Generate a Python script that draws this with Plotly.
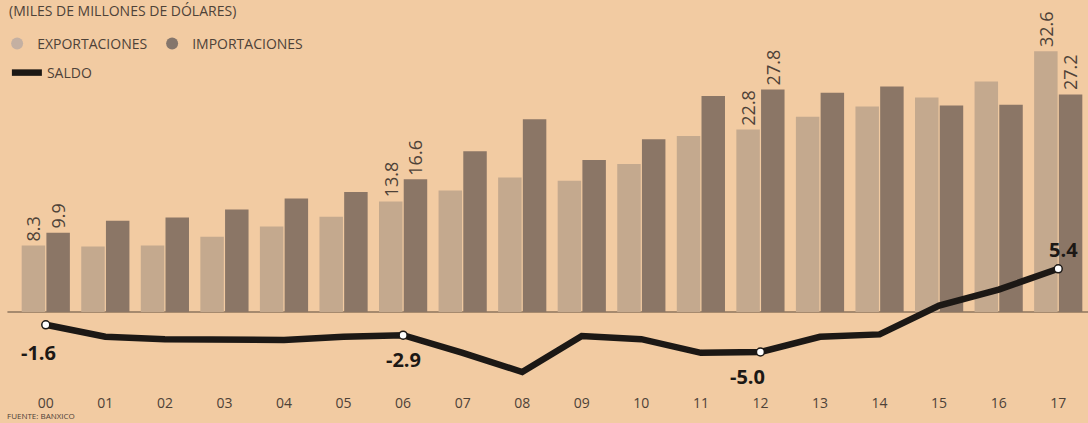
import plotly.graph_objects as go

years = ["00", "01", "02", "03", "04", "05", "06", "07", "08", "09",
         "10", "11", "12", "13", "14", "15", "16", "17"]
exportaciones = [8.3, 8.2, 8.3, 9.4, 10.7, 11.9, 13.8, 15.2, 16.8, 16.4,
                 18.5, 22.0, 22.8, 24.4, 25.7, 26.8, 28.8, 32.6]
importaciones = [9.9, 11.4, 11.8, 12.8, 14.2, 15.0, 16.6, 20.1, 24.1, 19.0,
                 21.6, 27.0, 27.8, 27.4, 28.2, 25.8, 25.9, 27.2]
saldo = [-1.6, -3.1, -3.4, -3.5, -3.5, -3.1, -2.9, -5.1, -7.5, -3.0,
         -3.4, -5.1, -5.0, -3.1, -2.8, 0.8, 2.8, 5.4]
labeled = [0, 6, 12, 17]

BG = "#f2cba2"
EXP_C = "#c4a98e"
IMP_C = "#8b7666"
TXT = "#4e4238"
LINE_C = "#1c1815"
FONT = "Open Sans"

PLOT_H = 390  # px height of plot area (margin b = 33)

fig = go.Figure()
fig.add_trace(go.Bar(x=years, y=exportaciones, marker=dict(color=EXP_C, line=dict(width=0)),
                     showlegend=False, hoverinfo="y"))
fig.add_trace(go.Bar(x=years, y=importaciones, marker=dict(color=IMP_C, line=dict(width=0)),
                     showlegend=False, hoverinfo="y"))
fig.add_trace(go.Scatter(x=years, y=saldo, mode="lines",
                         line=dict(color=LINE_C, width=6.5),
                         name="SALDO", legend="legend2"))
fig.add_trace(go.Scatter(x=[years[i] for i in labeled], y=[saldo[i] for i in labeled],
                         mode="markers", showlegend=False,
                         marker=dict(size=8, color="white",
                                     line=dict(color=LINE_C, width=1.5))))
# legend entries (circles)
fig.add_trace(go.Scatter(x=[None], y=[None], mode="markers", name="EXPORTACIONES",
                         marker=dict(size=12, color="#c4b0a2")))
fig.add_trace(go.Scatter(x=[None], y=[None], mode="markers", name="IMPORTACIONES",
                         marker=dict(size=12, color="#85766c")))

off = 0.2075
annotations = []
for i in labeled:
    annotations.append(dict(x=i - off, y=exportaciones[i], xref="x", yref="y",
                            text=f"{exportaciones[i]:.1f}", textangle=-90,
                            showarrow=False, xanchor="center", yanchor="bottom",
                            yshift=2, font=dict(size=18, color=TXT, family=FONT)))
    annotations.append(dict(x=i + off, y=importaciones[i], xref="x", yref="y",
                            text=f"{importaciones[i]:.1f}", textangle=-90,
                            showarrow=False, xanchor="center", yanchor="bottom",
                            yshift=2, font=dict(size=18, color=TXT, family=FONT)))

saldo_shift = {0: (-7, -28), 6: (0, -24), 12: (-13, -24), 17: (5, 19)}
for i in labeled:
    dx, dy = saldo_shift[i]
    annotations.append(dict(x=i, y=saldo[i], xref="x", yref="y",
                            text=f"<b>{saldo[i]:.1f}</b>", showarrow=False,
                            xshift=dx, yshift=dy,
                            font=dict(size=20, color=LINE_C, family=FONT)))

# paper coordinates: plot area spans x 16..1088, y 0..PLOT_H (px)
annotations.append(dict(x=(7 - 16) / 1072, y=1.0, xref="paper", yref="paper",
                        text="(MILES DE MILLONES DE DÓLARES)", showarrow=False,
                        xanchor="left", yanchor="top", yshift=1,
                        font=dict(size=14, color=TXT, family=FONT)))
annotations.append(dict(x=(5 - 16) / 1072, y=0, xref="paper", yref="paper",
                        text="FUENTE: BANXICO", showarrow=False,
                        xanchor="left", yanchor="bottom", yshift=-33,
                        font=dict(size=8, color=TXT, family=FONT)))

fig.update_layout(
    width=1088, height=423,
    margin=dict(l=16, r=0, t=0, b=423 - PLOT_H, autoexpand=False),
    paper_bgcolor=BG, plot_bgcolor=BG,
    barmode="group", bargap=0.17, bargroupgap=0.05,
    font=dict(family=FONT, color=TXT),
    xaxis=dict(type="category", range=[-0.5, 17.5], autorange=False,
               showgrid=False, showline=False, ticks="",
               tickfont=dict(size=14, color=TXT), ticklabelstandoff=3,
               automargin=False),
    yaxis=dict(range=[-(PLOT_H - 312) / 8, 312 / 8], autorange=False, visible=False,
               showgrid=False, zeroline=False, automargin=False),
    legend=dict(orientation="h", x=-0.0176, y=1 - 44 / PLOT_H, xanchor="left", yanchor="middle",
                bgcolor="rgba(0,0,0,0)", font=dict(size=14, color=TXT, family=FONT),
                itemwidth=30, traceorder="normal"),
    legend2=dict(orientation="h", x=-0.0085, y=1 - 73 / PLOT_H, xanchor="left", yanchor="middle",
                 bgcolor="rgba(0,0,0,0)", font=dict(size=14, color=TXT, family=FONT)),
    annotations=annotations,
    shapes=[dict(type="line", xref="paper", yref="y", x0=-0.008, x1=1, y0=0, y1=0,
                 line=dict(color="#5b4a3b", width=1.2), layer="below")],
)

fig.write_html("out.html", config={"displayModeBar": False},
               post_script="document.body.style.margin='0';document.body.style.overflow='hidden';")
